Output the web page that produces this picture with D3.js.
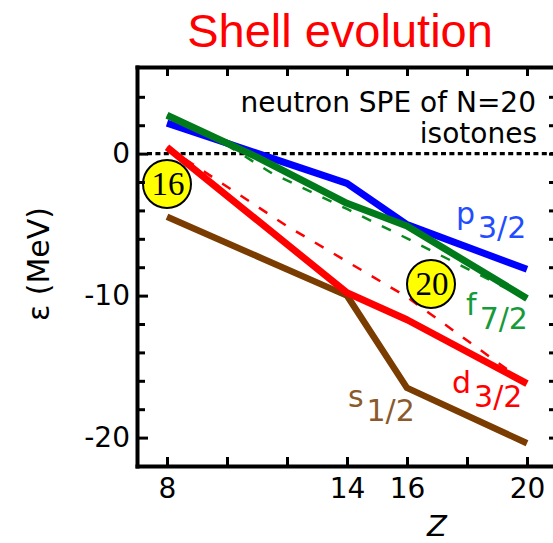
<!DOCTYPE html>
<html lang="en">
  <head>
    <meta charset="UTF-8" />
    <script src="https://d3js.org/d3.v7.min.js"></script>
    <style>
      body { margin: 0; background: #fff; }
      text { font-family: "DejaVu Sans", sans-serif; }
    </style>
  </head>
  <body>
    <script>
      // Z values where the SPE are given
      var zVals = [8, 14, 16, 20];
      var p32 = [2.15, -2.1, -5.0, -8.15];
      var d32 = [0.45, -9.8, -11.7, -16.2];
      var s12 = [-4.45, -10.0, -16.5, -20.4];
      // f7/2 bends a little more, so it has its own Z points
      var zF = [8, 11, 14, 16, 20];
      var f72 = [2.7, -0.25, -3.5, -5.1, -10.2];

      // dashed curves
      var zFDash = [8, 10, 11.5, 14, 16, 18, 20];
      var f72Dash = [2.7, 0.6, -1.39, -3.9, -5.97, -8.1, -10.2];
      var zDDash = [8, 12, 16, 20];
      var d32Dash = [0.45, -5.1, -10.1, -16.2];

      var xTicks = [8, 10, 12, 14, 16, 18, 20];
      var xLabels = [8, 14, 16, 20];
      var yTicks = [-20, -18, -16, -14, -12, -10, -8, -6, -4, -2, 0, 2, 4];
      var yLabels = [-20, -10, 0];

      var width = 553,
        height = 543;

      var svg = d3
        .select("body")
        .append("svg")
        .attr("width", width)
        .attr("height", height);

      var x = d3.scaleLinear().domain([7, 21]).range([137, 557]);
      var y = d3.scaleLinear().domain([-22, 6.1]).range([466, 67]);

      // title
      svg
        .append("text")
        .attr("x", 340)
        .attr("y", 47)
        .attr("text-anchor", "middle")
        .style("font-family", "'Liberation Sans', Arial, sans-serif")
        .style("font-size", "47px")
        .attr("fill", "#ff0000")
        .text("Shell evolution");

      // zero line
      svg
        .append("line")
        .attr("x1", x(7) + 10)
        .attr("x2", x(21))
        .attr("y1", y(0))
        .attr("y2", y(0))
        .attr("stroke", "#000")
        .attr("stroke-width", 3.2)
        .attr("stroke-dasharray", "5,3.4");

      var line = d3
        .line()
        .x(function (d) {
          return x(d[0]);
        })
        .y(function (d) {
          return y(d[1]);
        });

      function zipped(zs, vs) {
        return zs.map(function (z, i) {
          return [z, vs[i]];
        });
      }

      var dashed = [
        { z: zFDash, v: f72Dash, color: "#0a8a1e" },
        { z: zDDash, v: d32Dash, color: "#ff0000" }
      ];
      dashed.forEach(function (s) {
        svg
          .append("path")
          .attr("d", line(zipped(s.z, s.v)))
          .attr("fill", "none")
          .attr("stroke", s.color)
          .attr("stroke-width", 2.5)
          .attr("stroke-dasharray", "10,12");
      });

      var solid = [
        { z: zVals, v: s12, color: "#7a3c00", w: 6.5 },
        { z: zVals, v: d32, color: "#ff0000", w: 7 },
        { z: zVals, v: p32, color: "#0000ff", w: 7 },
        { z: zF, v: f72, color: "#007a1a", w: 7 }
      ];
      solid.forEach(function (s) {
        svg
          .append("path")
          .attr("d", line(zipped(s.z, s.v)))
          .attr("fill", "none")
          .attr("stroke", s.color)
          .attr("stroke-width", s.w)
          .attr("stroke-linejoin", "round");
      });

      // orbital labels: [main letter, subscript, Z, E, colour]
      var labels = [
        ["p", "3/2", 17.63, -4.96, "#1f4dff"],
        ["f", "7/2", 17.97, -11.37, "#169a3a"],
        ["d", "3/2", 17.5, -16.86, "#ff0000"],
        ["s", "1/2", 14.03, -17.85, "#8a5a2c"]
      ];
      labels.forEach(function (l) {
        var t = svg
          .append("text")
          .attr("x", x(l[2]))
          .attr("y", y(l[3]))
          .attr("fill", l[4])
          .style("font-size", "30px");
        t.append("tspan").text(l[0]);
        t.append("tspan").attr("dx", 3).attr("dy", 14).text(l[1]);
      });

      // magic number circles
      var magic = [
        ["16", 8, -2.14],
        ["20", 16.8, -9.18]
      ];
      magic.forEach(function (m) {
        svg
          .append("circle")
          .attr("cx", x(m[1]))
          .attr("cy", y(m[2]))
          .attr("r", 24)
          .attr("fill", "#ffff00")
          .attr("stroke", "#000")
          .attr("stroke-width", 2);
        svg
          .append("text")
          .attr("x", x(m[1]) + 1)
          .attr("y", y(m[2]) + 11)
          .attr("text-anchor", "middle")
          .style("font-family", "'Liberation Serif', 'Times New Roman', serif")
          .style("font-size", "33px")
          .text(m[0]);
      });

      // note
      var note = svg
        .append("text")
        .attr("text-anchor", "end")
        .style("font-size", "28px")
        .attr("fill", "#000");
      note.append("tspan").attr("x", 536).attr("y", 112).text("neutron SPE of N=20");
      note.append("tspan").attr("x", 537).attr("y", 143).text("isotones");

      // axes
      var gx = svg
        .append("g")
        .attr("transform", "translate(0," + y(-22) + ")")
        .call(
          d3
            .axisBottom(x)
            .tickValues(xTicks)
            .tickSizeInner(-9)
            .tickSizeOuter(0)
            .tickPadding(12)
            .tickFormat(function (d) {
              return xLabels.indexOf(d) >= 0 ? d : "";
            })
        );

      var gxTop = svg
        .append("g")
        .attr("transform", "translate(0," + y(6.1) + ")")
        .call(
          d3
            .axisTop(x)
            .tickValues(xTicks)
            .tickSizeInner(-9)
            .tickSizeOuter(0)
            .tickFormat("")
        );

      var gy = svg
        .append("g")
        .attr("transform", "translate(" + x(7) + ",0)")
        .call(
          d3
            .axisLeft(y)
            .tickValues(yTicks)
            .tickSizeInner(-8)
            .tickSizeOuter(0)
            .tickPadding(7)
            .tickFormat(function (d) {
              return yLabels.indexOf(d) >= 0 ? d : "";
            })
        );
      gy.selectAll(".tick")
        .filter(function (d) {
          return yLabels.indexOf(d) >= 0;
        })
        .select("line")
        .attr("x2", 11);

      var gyRight = svg
        .append("g")
        .attr("transform", "translate(" + x(21) + ",0)")
        .call(
          d3
            .axisRight(y)
            .tickValues(yTicks)
            .tickSizeInner(-8)
            .tickSizeOuter(0)
            .tickFormat("")
        );

      [gx, gxTop, gy, gyRight].forEach(function (g) {
        g.select(".domain")
          .attr("stroke-width", 4)
          .attr("stroke-linecap", "square");
        g.selectAll(".tick line").attr("stroke-width", 3);
        g.selectAll(".tick text")
          .style("font-family", "'DejaVu Sans', sans-serif")
          .style("font-size", "28px")
          .attr("fill", "#000");
      });

      // axis titles
      svg
        .append("text")
        .attr("transform", "translate(49,264) rotate(-90)")
        .attr("text-anchor", "middle")
        .style("font-size", "30px")
        .text("\u03b5 (MeV)");

      svg
        .append("text")
        .attr("x", 437)
        .attr("y", 536)
        .attr("text-anchor", "middle")
        .style("font-size", "29px")
        .style("font-style", "italic")
        .text("Z");
    </script>
  </body>
</html>
